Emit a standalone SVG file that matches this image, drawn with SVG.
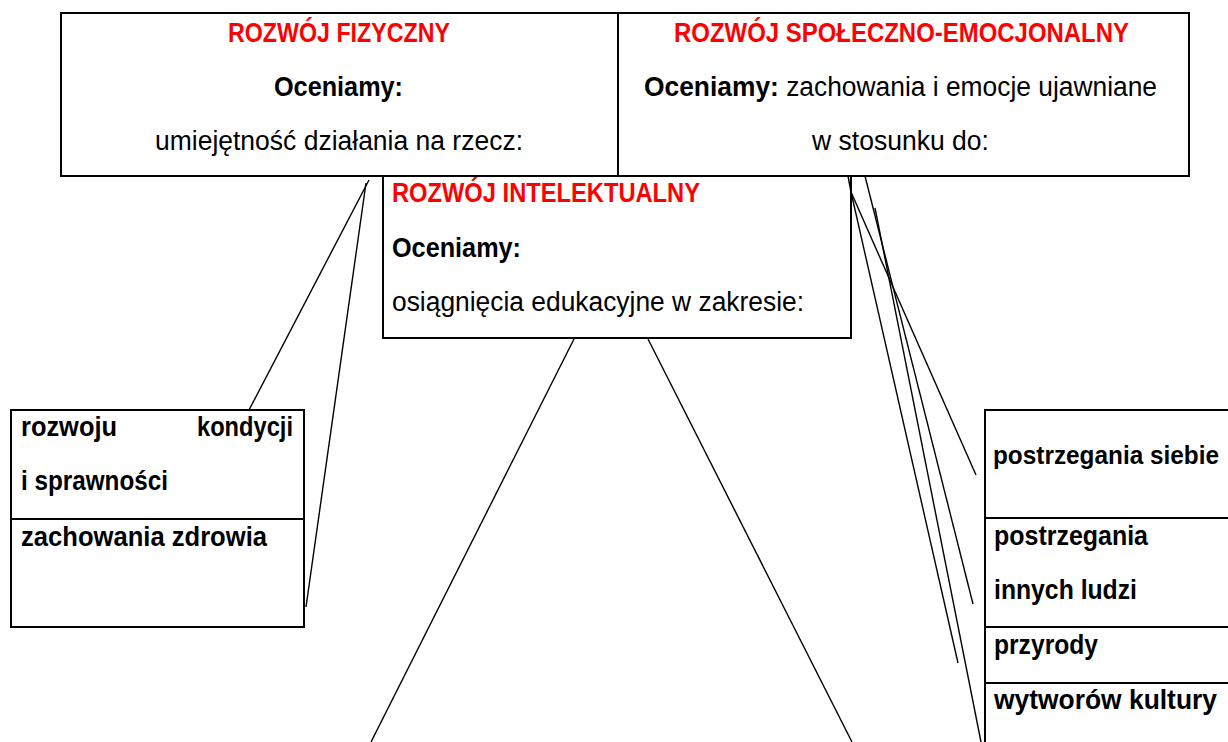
<svg xmlns="http://www.w3.org/2000/svg" width="1228" height="742" viewBox="0 0 1228 742">
<style>
.box{fill:#fff;stroke:#000;stroke-width:2}
.div{stroke:#000;stroke-width:2}
.t{font-family:"Liberation Sans",Arial,sans-serif;font-size:27px;fill:#000}
.b{font-weight:bold}
.red{fill:#ff0000;font-weight:bold}
.c{stroke:#000;stroke-width:1.4;fill:none}
</style>
<rect width="1228" height="742" fill="#fff"/>
<g id="node-top">
<rect class="box" x="61" y="13" width="1128" height="163"/>
<line class="div" x1="618" y1="13" x2="618" y2="176"/>
</g>
<g id="node-fizyczny">
<text class="t red" x="228" y="42" textLength="222" lengthAdjust="spacingAndGlyphs">ROZWÓJ FIZYCZNY</text>
<text class="t b" x="274" y="96" textLength="129" lengthAdjust="spacingAndGlyphs">Oceniamy:</text>
<text class="t" x="155" y="150" textLength="368" lengthAdjust="spacingAndGlyphs">umiejętność działania na rzecz:</text>
</g>
<g id="node-spoleczno">
<text class="t red" x="674" y="42" textLength="455" lengthAdjust="spacingAndGlyphs">ROZWÓJ SPOŁECZNO-EMOCJONALNY</text>
<text class="t" x="644" y="96" textLength="513" lengthAdjust="spacingAndGlyphs"><tspan class="b" font-weight="bold">Oceniamy:</tspan> zachowania i emocje ujawniane</text>
<text class="t" x="812" y="150" textLength="177" lengthAdjust="spacingAndGlyphs">w stosunku do:</text>
</g>
<g id="node-intelektualny">
<rect class="box" x="383" y="176" width="468" height="162"/>
<text class="t red" x="392" y="202" textLength="308" lengthAdjust="spacingAndGlyphs">ROZWÓJ INTELEKTUALNY</text>
<text class="t b" x="392" y="257" textLength="129" lengthAdjust="spacingAndGlyphs">Oceniamy:</text>
<text class="t" x="392" y="311" textLength="412" lengthAdjust="spacingAndGlyphs">osiągnięcia edukacyjne w zakresie:</text>
</g>
<g id="node-left">
<rect class="box" x="11" y="410" width="293" height="217"/>
<line class="div" x1="11" y1="519" x2="304" y2="519"/>
<text class="t b" x="21" y="436" textLength="96" lengthAdjust="spacingAndGlyphs">rozwoju</text>
<text class="t b" x="197" y="436" textLength="96" lengthAdjust="spacingAndGlyphs">kondycji</text>
<text class="t b" x="21" y="490" textLength="147" lengthAdjust="spacingAndGlyphs">i sprawności</text>
<text class="t b" x="21" y="546" textLength="246" lengthAdjust="spacingAndGlyphs">zachowania zdrowia</text>
</g>
<g id="node-right">
<rect class="box" x="985" y="410" width="300" height="400"/>
<line class="div" x1="985" y1="518" x2="1240" y2="518"/>
<line class="div" x1="985" y1="627" x2="1240" y2="627"/>
<line class="div" x1="985" y1="683" x2="1240" y2="683"/>
<text class="t b" x="993" y="464" style="font-size:25px" textLength="226" lengthAdjust="spacingAndGlyphs">postrzegania siebie</text>
<text class="t b" x="994" y="545" textLength="154" lengthAdjust="spacingAndGlyphs">postrzegania</text>
<text class="t b" x="994" y="599" textLength="143" lengthAdjust="spacingAndGlyphs">innych ludzi</text>
<text class="t b" x="994" y="654" textLength="104" lengthAdjust="spacingAndGlyphs">przyrody</text>
<text class="t b" x="994" y="709" textLength="223" lengthAdjust="spacingAndGlyphs">wytworów kultury</text>
</g>
<g id="connectors">
<line class="c" x1="369" y1="180" x2="249" y2="410"/>
<line class="c" x1="366" y1="183" x2="306" y2="607"/>
<line class="c" x1="574" y1="339" x2="371" y2="742"/>
<line class="c" x1="648" y1="339" x2="852" y2="742"/>
<line class="c" x1="848" y1="176" x2="851" y2="192"/>
<line class="c" x1="851" y1="192" x2="976" y2="475"/>
<line class="c" x1="851" y1="192" x2="958" y2="663"/>
<line class="c" x1="865" y1="176" x2="973" y2="604"/>
<line class="c" x1="875" y1="208" x2="981" y2="742"/>
</g>
</svg>
